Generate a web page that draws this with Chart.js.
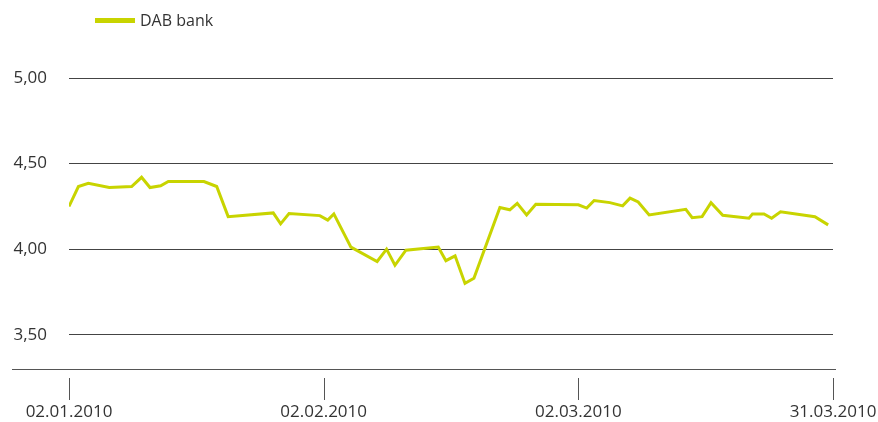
<!DOCTYPE html>
<html>
<head>
<meta charset="utf-8">
<script src="https://cdn.jsdelivr.net/npm/chart.js@4"></script>
<style>
    body { margin: 0; background: #fff; }
    #wrap { position: relative; width: 878px; height: 422px; }
    #legend { position: absolute; left: 95px; top: 8px; height: 24px; display: flex; align-items: center;
              font-family: "Open Sans", sans-serif; font-size: 16px; color: #333; }
    #legend .swatch { width: 40px; height: 5px; margin-right: 5px; }
</style>
</head>
<body>
<div id="wrap">
    <canvas id="chart" width="878" height="422"></canvas>
    <div id="legend"><span class="swatch"></span><span class="label"></span></div>
</div>
<script>
// Series name and colour
const seriesName = 'DAB bank';
const lineColor = '#c8d400';

// Position of each point along the date axis (0 = 02.01, 1 = 02.02, 2 = 02.03, 3 = 31.03)
const pointPos = [0, 0.037, 0.076, 0.158, 0.246, 0.285, 0.318, 0.36, 0.39, 0.53,
    0.58, 0.625, 0.802, 0.831, 0.864, 0.985, 1.016, 1.04, 1.107, 1.21,
    1.247, 1.28, 1.323, 1.45, 1.48, 1.516, 1.555, 1.59, 1.692, 1.731,
    1.76, 1.797, 1.833, 2.0, 2.033, 2.062, 2.124, 2.174, 2.203, 2.235,
    2.278, 2.422, 2.447, 2.486, 2.521, 2.567, 2.67, 2.684, 2.729, 2.759,
    2.794, 2.929, 2.981];

// Share price (EUR)
const price = [4.25, 4.366, 4.385, 4.36, 4.366, 4.42, 4.36, 4.37, 4.395, 4.395,
    4.366, 4.19, 4.212, 4.148, 4.208, 4.196, 4.17, 4.206, 4.012, 3.928,
    4.0, 3.906, 3.994, 4.012, 3.933, 3.961, 3.80, 3.83, 4.243, 4.23,
    4.268, 4.20, 4.263, 4.259, 4.24, 4.284, 4.272, 4.253, 4.298, 4.276,
    4.20, 4.233, 4.184, 4.19, 4.272, 4.198, 4.181, 4.206, 4.206, 4.181,
    4.218, 4.19, 4.142];

// Axis ticks
const xTickPos = [0, 1, 2, 3];
const xTickLabels = ['02.01.2010', '02.02.2010', '02.03.2010', '31.03.2010'];
const yTicks = [3.5, 4.0, 4.5, 5.0];

document.querySelector('#legend .swatch').style.background = lineColor;
document.querySelector('#legend .label').textContent = seriesName;

const fontFamily = '"Open Sans", sans-serif';

// Draws the base line, the separated tick marks and the date labels under the plot
const axisDecor = {
    id: 'axisDecor',
    afterDraw(chart) {
        const ctx = chart.ctx;
        const area = chart.chartArea;
        const xScale = chart.scales.x;
        ctx.save();
        ctx.strokeStyle = '#555';
        ctx.lineWidth = 1;
        ctx.beginPath();
        ctx.moveTo(12, area.bottom + 0.5);
        ctx.lineTo(area.right + 3, area.bottom + 0.5);
        xTickPos.forEach(v => {
            const px = Math.round(xScale.getPixelForValue(v)) + 0.5;
            ctx.moveTo(px, area.bottom + 9);
            ctx.lineTo(px, area.bottom + 31);
        });
        ctx.stroke();

        ctx.fillStyle = '#333';
        ctx.font = '17px ' + fontFamily;
        ctx.textAlign = 'center';
        ctx.textBaseline = 'middle';
        xTickPos.forEach((v, i) => {
            ctx.fillText(xTickLabels[i], xScale.getPixelForValue(v), area.bottom + 43);
        });
        ctx.restore();
    }
};

const ctx = document.getElementById('chart').getContext('2d');
new Chart(ctx, {
    type: 'line',
    data: {
        datasets: [{
            label: seriesName,
            data: pointPos.map((x, i) => ({ x: x, y: price[i] })),
            borderColor: lineColor,
            borderWidth: 3,
            pointRadius: 0,
            tension: 0,
            fill: false
        }]
    },
    options: {
        responsive: false,
        maintainAspectRatio: false,
        animation: false,
        layout: { padding: { top: 78, right: 45, left: 0, bottom: 0 } },
        plugins: {
            legend: { display: false },
            tooltip: { enabled: false }
        },
        scales: {
            x: {
                type: 'linear',
                min: 0,
                max: 3,
                afterBuildTicks: scale => { scale.ticks = xTickPos.map(v => ({ value: v })); },
                afterFit: scale => { scale.height = 53; },
                grid: { display: false, drawTicks: false, tickLength: 0 },
                border: { display: false },
                ticks: { display: false }
            },
            y: {
                min: 3.3,
                max: 5.0,
                afterBuildTicks: scale => { scale.ticks = yTicks.map(v => ({ value: v })); },
                afterFit: scale => { scale.width = 69; },
                grid: { color: '#444', lineWidth: 1, drawTicks: false },
                border: { display: false },
                ticks: {
                    padding: 22,
                    color: '#333',
                    font: { family: fontFamily, size: 17 },
                    callback: v => v.toFixed(2).replace('.', ',')
                }
            }
        }
    },
    plugins: [axisDecor]
});
</script>
</body>
</html>
